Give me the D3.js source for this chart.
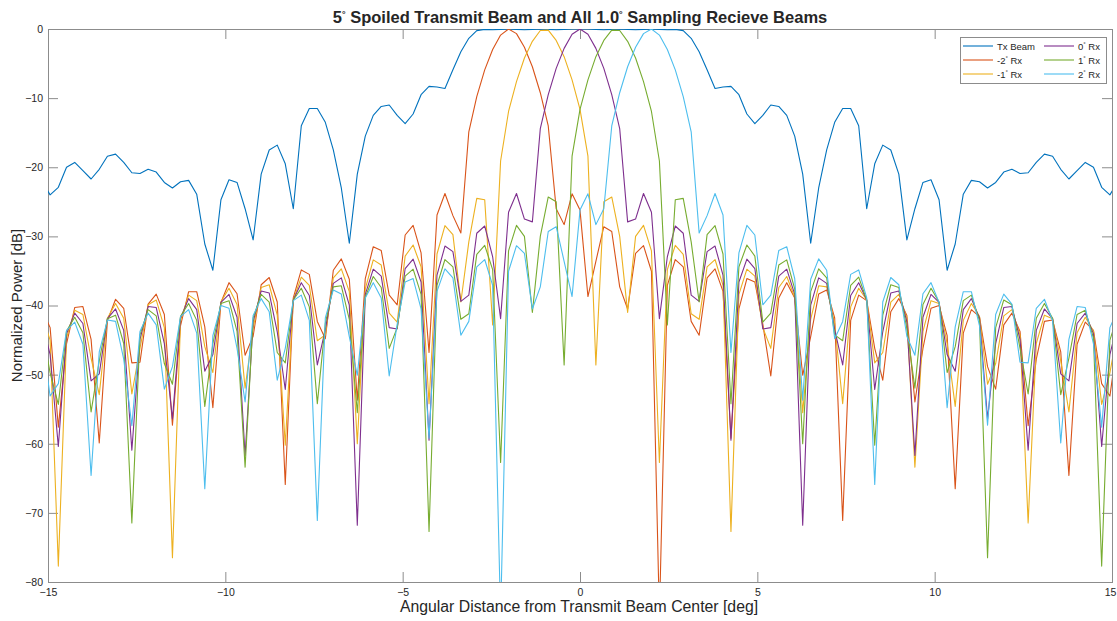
<!DOCTYPE html>
<html><head><meta charset="utf-8">
<script src="https://cdn.jsdelivr.net/npm/d3@7"></script>
<style>
body{margin:0;background:#fff}
svg{display:block}
text{font-family:"Liberation Sans",Arial,Helvetica,sans-serif;fill:#262626}
</style>
</head><body>
<svg id="chart" width="1117" height="621"></svg>
<script>
// FFT bin index k (u = sin(theta) = k/256); the angle grid of every series
const binIndex = d3.range(-67, 68);
const angleDeg = binIndex.map(k => Math.asin(k / 256) * 180 / Math.PI);

const seriesNames = ["Tx Beam", "-2", "-1", "0", "1", "2"];
const seriesColors = ["#0072BD", "#D95319", "#EDB120", "#7E2F8E", "#77AC30", "#4DBEEE"];
const xTicks = [-15, -10, -5, 0, 5, 10, 15];
const yTicks = [-80, -70, -60, -50, -40, -30, -20, -10, 0];

const txBeam = [-22.0,-24.0,-22.9,-20.0,-19.3,-20.5,-21.7,-20.3,-18.4,-18.1,-19.3,-20.8,-20.9,-20.3,-20.7,-22.2,-23.0,-22.1,-21.9,-23.9,-31.1,-34.9,-24.7,-21.8,-22.2,
-26.0,-30.5,-21.0,-17.5,-16.8,-19.5,-26.0,-14.0,-11.5,-11.5,-13.5,-17.5,-23.0,-31.0,-21.0,-15.5,-12.5,-11.2,-11.0,-12.5,-13.7,-12.3,-9.5,-8.3,-8.4,-8.6,-5.9,-3.3,-1.35,-0.24,
-0.05,-0.1,-0.05,0,-0.05,-0.1,-0.05,0,-0.05,-0.1,-0.05,0,0,
0,-0.05,-0.1,-0.05,0,-0.05,-0.1,-0.05,0,-0.05,-0.1,-0.05,
-0.24,-1.35,-3.3,-5.9,-8.6,-8.4,-8.3,-9.5,-12.3,-13.7,-12.5,-11.0,-11.2,-12.5,-15.5,-21.0,-31.0,-23.0,-17.5,-13.5,-11.5,-11.5,-14.0,-26.0,-19.5,-16.8,-17.5,-21.0,-30.5,-26.0,
-22.2,-21.8,-24.7,-34.9,-31.1,-23.9,-21.9,-22.1,-23.0,-22.2,-20.7,-20.3,-20.9,-20.8,-19.3,-18.1,-18.4,-20.3,-21.7,-20.5,-19.3,-20.0,-22.9,-24.0,-22.0];

const rxM2 = [-40.5,-43.2,-57.6,-45.55,-40.3,-40.15,-44.9,-59.9,-42.2,-39.1,-40.4,-48.3,-48.2,-39.8,-38.35,-41.3,-57.3,-42.9,-38.0,-38.0,-43.1,-54.8,-39.55,-36.7,-38.3,-47.2,-44.45,-37.0,-35.95,-39.5,-65.9,-38.9,-34.85,-35.5,-42.3,-44.8,-34.9,-33.25,-36.2,-53.7,-36.1,-31.5,-32.05,-38.5,-39.9,-29.8,-28.4,-32.4,-46.8,-26.9,-23.8,-27.0,-29.5,-14.87,-9.78,-5.92,-2.96,-0.88,0,
-0.67,-2.65,-5.46,-9.22,-14.03,-26.0,-28.3,-23.85,-26.2,-38.7,-33.6,-28.6,-29.3,-37.3,-40.5,-32.45,-31.35,-35.05,-85,-37.1,-33.35,-34.4,-42.3,-44.3,-36.0,-34.7,-37.95,-59.2,-40.5,-36.1,-36.6,-42.7,-50.2,-38.9,-36.7,-38.9,-50.1,-44.5,-38.35,-37.75,-41.8,-71.1,-42.15,-38.5,-39.3,-46.2,-50.8,-40.9,-39.0,-41.45,-53.95,-46.2,-40.4,-40.0,-44.35,-66.5,-44.0,-40.6,-41.6,-48.85,-52.1,-42.8,-41.1,-43.75,-57.4,-47.75,-42.3,-42.1,-46.7,-64.6,-45.6,-42.4,-43.6,-51.3,-53.1,-44.5];

const rxM1 = [-41.3,-45.0,-77.7,-44.7,-40.7,-41.3,-47.6,-52.9,-41.85,-39.7,-41.85,-52.8,-46.2,-39.9,-39.2,-43.2,-76.5,-42.2,-38.5,-39.3,-45.96,-49.7,-39.5,-37.5,-39.85,-51.95,-43.3,-37.4,-37.0,-41.4,-60.2,-39.2,-35.9,-37.1,-45.1,-44.25,-36.0,-34.7,-38.0,-60.0,-37.6,-33.4,-34.15,-41.1,-42.4,-32.85,-31.25,-34.4,-54.2,-32.55,-28.45,-29.75,-39.5,-30.8,-24.5,-24.7,-42.8,-19.1,-11.93,-7.61,-4.2,-1.78,-0.21,
-0.16,-1.65,-4.0,-7.37,-11.62,-18.4,-48.6,-25.0,-24.3,-30.0,-41.0,-30.0,-28.4,-32.1,-62.7,-34.8,-31.3,-32.6,-41.2,-42.0,-34.4,-33.35,-37.1,-72.7,-38.4,-34.75,-35.75,-43.2,-46.2,-37.4,-35.8,-38.8,-55.5,-42.0,-37.15,-37.3,-42.6,-54.2,-40.2,-37.5,-39.2,-48.3,-46.8,-39.5,-38.4,-41.8,-63.4,-43.75,-39.3,-39.7,-45.5,-54.6,-42.15,-39.7,-41.55,-51.4,-48.4,-41.5,-40.6,-44.25,-71.45,-45.5,-41.4,-41.9,-48.0,-55.4,-43.95,-41.7,-43.7,-54.3,-49.75,-43.2];

const rx0 = [-42.2,-47.1,-60.4,-44.1,-41.1,-42.6,-50.9,-49.9,-41.9,-40.5,-43.6,-60.95,-44.9,-40.15,-40.3,-45.5,-56.4,-41.8,-39.0,-40.6,-49.5,-47.1,-39.55,-38.4,-41.7,-61.7,-42.35,-37.9,-38.2,-43.8,-52.15,-39.2,-36.7,-38.55,-48.6,-43.5,-36.8,-36.0,-39.95,-71.8,-38.4,-34.75,-35.75,-43.2,-43.4,-34.65,-33.3,-36.6,-59.5,-35.6,-31.4,-32.2,-39.4,-38.5,-29.55,-28.5,-32.95,-41.9,-26.5,-23.8,-27.5,-27.9,-14.4,-9.5,-5.7,-2.8,-0.77,
0,
-0.77,-2.8,-5.7,-9.5,-14.4,-27.9,-27.5,-23.8,-26.5,-41.9,-32.95,-28.5,-29.55,-38.5,-39.4,-32.2,-31.4,-35.6,-59.5,-36.6,-33.3,-34.65,-43.4,-43.2,-35.75,-34.75,-38.4,-71.8,-39.95,-36.0,-36.8,-43.5,-48.6,-38.55,-36.7,-39.2,-52.15,-43.8,-38.2,-37.9,-42.35,-61.7,-41.7,-38.4,-39.55,-47.1,-49.5,-40.6,-39.0,-41.8,-56.4,-45.5,-40.3,-40.15,-44.9,-60.95,-43.6,-40.5,-41.9,-49.9,-50.9,-42.6,-41.1,-44.1,-60.4,-47.1,-42.2];

const rxP1 = [-43.2,-49.75,-54.3,-43.7,-41.7,-43.95,-55.4,-48.0,-41.9,-41.4,-45.5,-71.45,-44.25,-40.6,-41.5,-48.4,-51.4,-41.55,-39.7,-42.15,-54.6,-45.5,-39.7,-39.3,-43.75,-63.4,-41.8,-38.4,-39.5,-46.8,-48.3,-39.2,-37.5,-40.2,-54.2,-42.6,-37.3,-37.15,-42.0,-55.5,-38.8,-35.8,-37.4,-46.2,-43.2,-35.75,-34.75,-38.4,-72.7,-37.1,-33.35,-34.4,-42.0,-41.2,-32.6,-31.3,-34.8,-62.7,-32.1,-28.4,-30.0,-41.0,-30.0,-24.3,-25.0,-48.6,-18.4,-11.62,-7.37,-4.0,-1.65,-0.16,
-0.21,-1.78,-4.2,-7.61,-11.93,-19.1,-42.8,-24.7,-24.5,-30.8,-39.5,-29.75,-28.45,-32.55,-54.2,-34.4,-31.25,-32.85,-42.4,-41.1,-34.15,-33.4,-37.6,-60.0,-38.0,-34.7,-36.0,-44.25,-45.1,-37.1,-35.9,-39.2,-60.2,-41.4,-37.0,-37.4,-43.3,-51.95,-39.85,-37.5,-39.5,-49.7,-45.96,-39.3,-38.5,-42.2,-76.5,-43.2,-39.2,-39.9,-46.2,-52.8,-41.85,-39.7,-41.85,-52.9,-47.6,-41.3,-40.7,-44.7,-77.7,-45.0,-41.3];

const rxP2 = [-44.5,-53.1,-51.3,-43.6,-42.4,-45.6,-64.6,-46.7,-42.1,-42.3,-47.75,-57.4,-43.75,-41.1,-42.8,-52.1,-48.85,-41.6,-40.6,-44.0,-66.5,-44.35,-40.0,-40.4,-46.2,-53.95,-41.45,-39.0,-40.9,-50.8,-46.2,-39.3,-38.5,-42.15,-71.1,-41.8,-37.75,-38.35,-44.5,-50.1,-38.9,-36.7,-38.9,-50.2,-42.7,-36.6,-36.1,-40.5,-59.2,-37.95,-34.7,-36.0,-44.3,-42.3,-34.4,-33.35,-37.1,-85,-35.05,-31.35,-32.45,-40.5,-37.3,-29.3,-28.6,-33.6,-38.7,-26.2,-23.85,-28.3,-26.0,-14.03,-9.22,-5.46,-2.65,-0.67,
0,-0.88,-2.96,-5.92,-9.78,-14.87,-29.5,-27.0,-23.8,-26.9,-46.8,-32.4,-28.4,-29.8,-39.9,-38.5,-32.05,-31.5,-36.1,-53.7,-36.2,-33.25,-34.9,-44.8,-42.3,-35.5,-34.85,-38.9,-65.9,-39.5,-35.95,-37.0,-44.45,-47.2,-38.3,-36.7,-39.55,-54.8,-43.1,-38.0,-38.0,-42.9,-57.3,-41.3,-38.35,-39.8,-48.2,-48.3,-40.4,-39.1,-42.2,-59.9,-44.9,-40.15,-40.3,-45.55,-57.6,-43.2,-40.5];

const series = [txBeam, rxM2, rxM1, rx0, rxP1, rxP2];

const svg = d3.select("#chart");
const L = 48, R = 1112, T = 29, B = 582;
const x = d3.scaleLinear().domain([-15, 15]).range([L, R]);
const y = d3.scaleLinear().domain([-80, 0]).range([B, T]);

svg.append("defs").append("clipPath").attr("id", "clip")
  .append("rect").attr("x", L).attr("y", T).attr("width", R - L).attr("height", B - T);

const axisColor = "#8c8c8c";
function styleAxis(g) {
  g.select(".domain").remove();
  g.selectAll(".tick line").attr("stroke", axisColor);
  g.selectAll(".tick text").attr("fill", "#262626").style("font-size", "10.5px")
    .style("font-family", '"Liberation Sans", Arial, sans-serif');
}
const xAxisG = svg.append("g").attr("transform", `translate(0,${B})`)
  .call(d3.axisBottom(x).tickValues(xTicks).tickSizeInner(-10).tickSizeOuter(0).tickPadding(7).tickFormat(d3.format("d")))
  .call(styleAxis);
xAxisG.selectAll(".tick text").filter(d => d === 15).attr("dx", "-2");
svg.append("g").attr("transform", `translate(0,${T})`)
  .call(d3.axisTop(x).tickValues(xTicks).tickSizeInner(-10).tickSizeOuter(0).tickFormat(""))
  .call(styleAxis);
svg.append("g").attr("transform", `translate(${L},0)`)
  .call(d3.axisLeft(y).tickValues(yTicks).tickSizeInner(-10).tickSizeOuter(0).tickPadding(5).tickFormat(d3.format("d")))
  .call(styleAxis);
svg.append("g").attr("transform", `translate(${R},0)`)
  .call(d3.axisRight(y).tickValues(yTicks).tickSizeInner(-10).tickSizeOuter(0).tickFormat(""))
  .call(styleAxis);

svg.append("rect").attr("x", L + 0.5).attr("y", T + 0.5).attr("width", R - L).attr("height", B - T)
  .attr("fill", "none").attr("stroke", axisColor).attr("stroke-width", 1);

const line = d3.line().x((d, i) => x(angleDeg[i])).y(d => y(d));
const plot = svg.append("g").attr("clip-path", "url(#clip)");
series.forEach((s, i) => {
  plot.append("path").datum(s).attr("d", line).attr("fill", "none")
    .attr("stroke", seriesColors[i]).attr("stroke-width", 1.1).attr("stroke-linejoin", "round");
});

// Title
const title = svg.append("text").attr("x", 580).attr("y", 23).attr("text-anchor", "middle")
  .style("font-size", "16.5px").style("font-weight", "bold").attr("fill", "#000");
title.append("tspan").text("5");
title.append("tspan").attr("dy", -6).style("font-size", "9px").text("°");
title.append("tspan").attr("dy", 6).text(" Spoiled Transmit Beam and All 1.0");
title.append("tspan").attr("dy", -6).style("font-size", "9px").text("°");
title.append("tspan").attr("dy", 6).text(" Sampling Recieve Beams");

svg.append("text").attr("x", 579).attr("y", 612).attr("text-anchor", "middle")
  .style("font-size", "15.8px").text("Angular Distance from Transmit Beam Center [deg]");
svg.append("text").attr("transform", "translate(22,305.5) rotate(-90)").attr("text-anchor", "middle")
  .style("font-size", "15px").text("Normalized Power [dB]");

// Legend
const lg = svg.append("g");
lg.append("rect").attr("x", 960.5).attr("y", 37.5).attr("width", 146).attr("height", 46)
  .attr("fill", "#fff").attr("stroke", axisColor);
seriesNames.forEach((name, i) => {
  const col = Math.floor(i / 3), row = i % 3;
  const lx = col === 0 ? 963 : 1044, ly = 46 + row * 14;
  lg.append("line").attr("x1", lx).attr("x2", lx + 30).attr("y1", ly).attr("y2", ly)
    .attr("stroke", seriesColors[i]).attr("stroke-width", 1.1);
  const t = lg.append("text").attr("x", lx + 34).attr("y", ly + 3.5).style("font-size", "9.5px");
  if (i === 0) { t.text(name); }
  else {
    t.append("tspan").text(name);
    t.append("tspan").attr("dy", -4).style("font-size", "6px").text("°");
    t.append("tspan").attr("dy", 4).text(" Rx");
  }
});
</script>
</body></html>
